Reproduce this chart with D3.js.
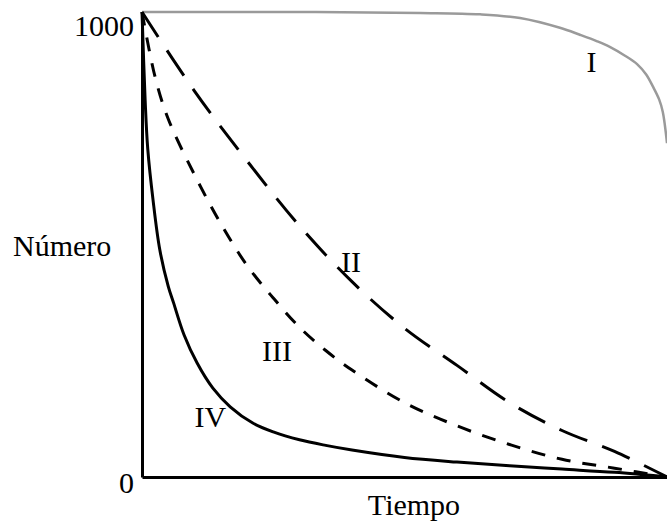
<!DOCTYPE html>
<html>
<head>
<meta charset="utf-8">
<script src="https://cdn.jsdelivr.net/npm/d3@7"></script>
<style>
    body { margin: 0; background: #fff; }
    svg { display: block; }
</style>
</head>
<body>
<div id="chart"></div>
<script>
// curve I (late loss)
var timeI = [0, 30, 53, 64.4, 72, 79.6, 83.4, 86.7, 89.1, 92, 94.3, 96, 97.3, 98.5, 99.2, 100];
var numI = [1000, 1000, 998, 995, 987, 966, 951, 937, 925, 906, 888, 866, 840, 812, 785, 718];

// curve II (long dashes)
var timeII = [0, 10, 20, 30, 40, 50, 60, 70, 80, 90, 100];
var numII = [1000, 830, 680, 540, 420, 320, 240, 160, 100, 55, 0];

// curve III (short dashes)
var timeIII = [0, 2.5, 5, 10, 15, 20, 25, 30, 35, 40, 50, 60, 70, 80, 90, 100];
var numIII = [1000, 860, 770, 650, 545, 455, 385, 322, 272, 230, 160, 110, 70, 38, 19, 0];

// curve IV (early loss)
var timeIV = [0, 0.6, 1.1, 2.1, 3.4, 5, 6, 8, 10.5, 13.5, 16.8, 21.1, 25, 30, 35, 40, 50, 60, 70, 80, 90, 100];
var numIV = [1000, 810, 705, 596, 488, 410, 375, 306, 245, 191, 151, 116, 97, 80, 68, 58, 42, 32, 24, 17, 10, 0];

var yTicks = [0, 1000];
var curveNames = ['I', 'II', 'III', 'IV'];
// label anchor points in data units
var labelTime = [85.6, 39.8, 25.7, 13];
var labelNum = [870, 440, 250, 108];

var width = 667, height = 525;
var fontFamily = '"Liberation Serif", "Times New Roman", serif';

var x = d3.scaleLinear()
    .domain([0, 100])
    .range([142, 667]);

var y = d3.scaleLinear()
    .domain([0, 1000])
    .range([477, 12]);

var svg = d3.select('#chart')
    .append('svg')
    .attr('width', width)
    .attr('height', height);

var line = d3.line()
    .x(d => x(d[0]))
    .y(d => y(d[1]))
    .curve(d3.curveCatmullRom.alpha(0.5));

var zip = (a, b) => a.map((v, i) => [v, b[i]]);

// curve I - grey
svg.append('path')
    .attr('d', line(zip(timeI, numI)))
    .attr('fill', 'none')
    .attr('stroke', '#9a9a9a')
    .attr('stroke-width', 2.5);

// curve II - long dash
svg.append('path')
    .attr('d', line(zip(timeII, numII)))
    .attr('fill', 'none')
    .attr('stroke', 'black')
    .attr('stroke-width', 3)
    .attr('stroke-dasharray', '30,16');

// curve III - short dash
svg.append('path')
    .attr('d', line(zip(timeIII, numIII)))
    .attr('fill', 'none')
    .attr('stroke', 'black')
    .attr('stroke-width', 3)
    .attr('stroke-dasharray', '14,12');

// curve IV - solid
svg.append('path')
    .attr('d', line(zip(timeIV, numIV)))
    .attr('fill', 'none')
    .attr('stroke', 'black')
    .attr('stroke-width', 3);

// y axis
var yAxis = svg.append('g')
    .attr('transform', 'translate(' + x(0) + ',0)')
    .call(d3.axisLeft(y).tickValues(yTicks).tickFormat(d3.format('d')).tickSize(0).tickPadding(8).tickSizeOuter(0));

yAxis.select('.domain')
    .attr('stroke', 'black')
    .attr('stroke-width', 3);

yAxis.selectAll('.tick text')
    .attr('font-family', fontFamily)
    .attr('font-size', 30)
    .attr('fill', 'black')
    .attr('dy', d => d === 0 ? 15 : 23);

// x axis
var xAxis = svg.append('g')
    .attr('transform', 'translate(0,' + y(0) + ')')
    .call(d3.axisBottom(x).tickValues([]).tickSizeOuter(0));

xAxis.select('.domain')
    .attr('stroke', 'black')
    .attr('stroke-width', 3);

// axis titles
svg.append('text')
    .attr('x', 13)
    .attr('y', 256)
    .attr('font-family', fontFamily)
    .attr('font-size', 30)
    .text('Número');

svg.append('text')
    .attr('x', 414)
    .attr('y', 515)
    .attr('text-anchor', 'middle')
    .attr('font-family', fontFamily)
    .attr('font-size', 30)
    .text('Tiempo');

// curve labels
svg.selectAll('.curve-label')
    .data(curveNames)
    .enter()
    .append('text')
    .attr('class', 'curve-label')
    .attr('x', (d, i) => x(labelTime[i]))
    .attr('y', (d, i) => y(labelNum[i]))
    .attr('text-anchor', 'middle')
    .attr('font-family', fontFamily)
    .attr('font-size', 30)
    .text(d => d);
</script>
</body>
</html>
